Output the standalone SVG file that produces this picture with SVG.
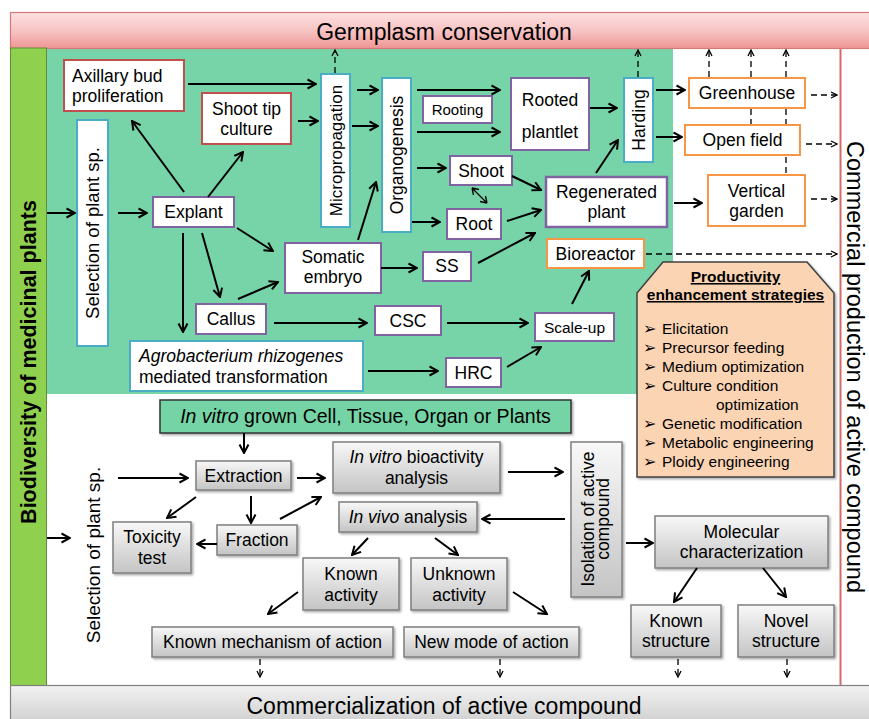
<svg xmlns="http://www.w3.org/2000/svg" width="869" height="719" viewBox="0 0 869 719">
<defs>
<linearGradient id="pink" x1="0" y1="0" x2="0" y2="1"><stop offset="0" stop-color="#fde2e2"/><stop offset="0.55" stop-color="#f7c0c0"/><stop offset="1" stop-color="#ef9494"/></linearGradient>
<linearGradient id="grey" x1="0" y1="0" x2="0" y2="1"><stop offset="0" stop-color="#f8f8f8"/><stop offset="1" stop-color="#c4c4c4"/></linearGradient>
<linearGradient id="bot" x1="0" y1="0" x2="0" y2="1"><stop offset="0" stop-color="#f2f2f2"/><stop offset="1" stop-color="#cdcdcd"/></linearGradient>
<filter id="sh" x="-10%" y="-10%" width="130%" height="140%"><feDropShadow dx="1.5" dy="1.5" stdDeviation="1" flood-color="#000" flood-opacity="0.35"/></filter>
<marker id="ah" markerUnits="userSpaceOnUse" markerWidth="12" markerHeight="12" viewBox="0 0 12 12" refX="11" refY="6" orient="auto"><path d="M2.5,1.5 L11,6 L2.5,10.5" fill="none" stroke="#000" stroke-width="2"/></marker>
<marker id="ahs" markerUnits="userSpaceOnUse" markerWidth="9" markerHeight="9" viewBox="0 0 9 9" refX="8" refY="4.5" orient="auto"><path d="M2,1.5 L8,4.5 L2,7.5" fill="none" stroke="#000" stroke-width="1.3"/></marker>
</defs>
<style>
.t{font-family:"Liberation Sans",Arial,Helvetica,sans-serif;font-size:17.5px;fill:#000;text-anchor:middle}
.s{font-size:15.5px}
.l{text-anchor:start}
.i{font-style:italic}
.bx{fill:#fff;stroke-width:2}
.r{stroke:#c0504d}
.p{stroke:#8064a2}
.b{stroke:#4bacc6}
.o{stroke:#f79646}
.g{fill:url(#grey);stroke:#7f7f7f;stroke-width:1.5;filter:url(#sh)}
.c{fill:none;stroke:#000;stroke-width:2;marker-end:url(#ah)}
.d{fill:none;stroke:#000;stroke-width:1.3;stroke-dasharray:6 4;marker-end:url(#ahs)}
.dn{fill:none;stroke:#000;stroke-width:1.3;stroke-dasharray:6 4}
.pt{font-size:15.5px;text-anchor:start}
.bu{font-family:"DejaVu Sans",sans-serif;font-size:16px;text-anchor:start}
</style>
<!-- background regions -->
<rect x="0" y="0" width="869" height="719" fill="#fff"/>
<rect x="46" y="48" width="627" height="346" fill="#77d4a8"/>
<line x1="840.5" y1="48" x2="840.5" y2="686" stroke="#d46a6a" stroke-width="2"/>
<g id="banner-top">
<rect x="10.5" y="12.5" width="870" height="36" fill="url(#pink)" stroke="#d47a7a" stroke-width="1.2"/>
<text class="t" x="444" y="40" style="font-size:23px">Germplasm conservation</text>
</g>
<g id="bar-left">
<rect x="10.5" y="48" width="36" height="638" fill="#8fd14f" stroke="#5f8f3a" stroke-width="1"/>
<text class="t" transform="translate(28.5,362) rotate(-90)" y="7.5" style="font-size:21.5px;font-weight:bold">Biodiversity of medicinal plants</text>
</g>
<g id="label-right">
<text class="t" transform="translate(855,367) rotate(90)" y="8" style="font-size:23.5px">Commercial production of active compound</text>
</g>
<g id="banner-bottom">
<rect x="10.5" y="685.5" width="870" height="40" fill="url(#bot)" stroke="#808080" stroke-width="1.2"/>
<text class="t" x="444" y="714" style="font-size:23px">Commercialization of active compound</text>
</g>

<!-- upper nodes -->
<g id="axillary"><rect class="bx r" x="64" y="60" width="120" height="51"/><text class="t l" x="72" y="82">Axillary bud</text><text class="t l" x="72" y="102">proliferation</text></g>
<g id="shoottip"><rect class="bx r" x="202" y="93" width="89" height="51"/><text class="t" x="246.5" y="115">Shoot tip</text><text class="t" x="246.5" y="135">culture</text></g>
<g id="selection1"><rect class="bx b" x="77" y="120" width="31" height="226"/><text class="t" transform="translate(92.5,233) rotate(-90)" y="6.5" style="font-size:18.5px">Selection of plant sp.</text></g>
<g id="explant"><rect class="bx p" x="153" y="197" width="81" height="30"/><text class="t" x="193.5" y="218">Explant</text></g>
<g id="micropropagation"><rect class="bx b" x="321" y="74" width="29" height="153"/><text class="t" transform="translate(335.5,150.5) rotate(-90)" y="6" style="font-size:17px">Micropropagation</text></g>
<g id="organogenesis"><rect class="bx b" x="382" y="78" width="29" height="154"/><text class="t" transform="translate(396.5,155) rotate(-90)" y="6">Organogenesis</text></g>
<g id="rooting"><rect class="bx p" x="423" y="96" width="69" height="27"/><text class="t" x="457.5" y="115" style="font-size:15px">Rooting</text></g>
<g id="rootedplantlet"><rect class="bx p" x="511" y="78" width="78" height="72"/><text class="t" x="550" y="106">Rooted</text><text class="t" x="550" y="138">plantlet</text></g>
<g id="harding"><rect class="bx b" x="624" y="78" width="29" height="84"/><text class="t" transform="translate(638.5,120) rotate(-90)" y="6">Harding</text></g>
<g id="shoot"><rect class="bx p" x="450" y="156" width="62" height="29"/><text class="t" x="481" y="177">Shoot</text></g>
<g id="root"><rect class="bx p" x="447" y="209" width="54" height="30"/><text class="t" x="474" y="230">Root</text></g>
<g id="regenerated"><rect class="bx p" x="546" y="177" width="121" height="50" style="stroke-width:2.5"/><text class="t" x="606.5" y="198">Regenerated</text><text class="t" x="606.5" y="218">plant</text></g>
<g id="somatic"><rect class="bx p" x="285" y="243" width="96" height="50"/><text class="t" x="333" y="263">Somatic</text><text class="t" x="333" y="283">embryo</text></g>
<g id="ss"><rect class="bx p" x="423" y="252" width="48" height="29"/><text class="t" x="447" y="272">SS</text></g>
<g id="bioreactor"><rect class="bx o" x="547" y="239" width="97" height="29"/><text class="t" x="595.5" y="260">Bioreactor</text></g>
<g id="callus"><rect class="bx p" x="196" y="304" width="70" height="30"/><text class="t" x="231" y="325">Callus</text></g>
<g id="csc"><rect class="bx p" x="375" y="306" width="66" height="29"/><text class="t" x="408" y="327">CSC</text></g>
<g id="scaleup"><rect class="bx p" x="535" y="313" width="79" height="28"/><text class="t s" x="574.5" y="333">Scale-up</text></g>
<g id="agrobacterium"><rect class="bx b" x="130" y="341" width="233" height="50"/><text class="t l i" x="139" y="362">Agrobacterium rhizogenes</text><text class="t l" x="139" y="383">mediated transformation</text></g>
<g id="hrc"><rect class="bx p" x="446" y="358" width="55" height="29"/><text class="t" x="473.5" y="379">HRC</text></g>
<g id="greenhouse"><rect class="bx o" x="689" y="78" width="116" height="30"/><text class="t" x="747" y="99">Greenhouse</text></g>
<g id="openfield"><rect class="bx o" x="685" y="125" width="115" height="30"/><text class="t" x="742.5" y="146">Open field</text></g>
<g id="verticalgarden"><rect class="bx o" x="708" y="175" width="97" height="51"/><text class="t" x="756.5" y="197">Vertical</text><text class="t" x="756.5" y="217">garden</text></g>
<g id="productivity">
<path d="M637,293 L663,262 L807,262 L834,293 L834,477 L637,477 Z" fill="#fbd4b4" stroke="#404040" stroke-width="1.5" filter="url(#sh)"/>
<text class="t" x="735.5" y="282" style="font-size:15.5px;font-weight:bold;text-decoration:underline">Productivity</text>
<text class="t" x="735.5" y="300" style="font-size:15.5px;font-weight:bold;text-decoration:underline">enhancement strategies</text>
<text class="bu" x="643" y="334">➢</text><text class="t pt" x="662" y="334">Elicitation</text>
<text class="bu" x="643" y="353">➢</text><text class="t pt" x="662" y="353">Precursor feeding</text>
<text class="bu" x="643" y="372">➢</text><text class="t pt" x="662" y="372">Medium optimization</text>
<text class="bu" x="643" y="391">➢</text><text class="t pt" x="662" y="391">Culture condition</text>
<text class="t pt" x="716" y="410">optimization</text>
<text class="bu" x="643" y="429">➢</text><text class="t pt" x="662" y="429">Genetic modification</text>
<text class="bu" x="643" y="448">➢</text><text class="t pt" x="662" y="448">Metabolic engineering</text>
<text class="bu" x="643" y="467">➢</text><text class="t pt" x="662" y="467">Ploidy engineering</text>
</g>

<!-- lower nodes -->
<g id="invitrogrown"><rect x="160" y="400" width="411" height="33" fill="#74d4a6" stroke="#333" stroke-width="1.5" filter="url(#sh)"/><text class="t" x="365.5" y="423" style="font-size:19.5px"><tspan class="i">In vitro</tspan> grown Cell, Tissue, Organ or Plants</text></g>
<g id="selection2"><text class="t" transform="translate(93,555) rotate(-90)" y="6.5" style="font-size:19px">Selection of plant sp.</text></g>
<g id="extraction"><rect class="g" x="196" y="461" width="95" height="29"/><text class="t" x="243.5" y="482">Extraction</text></g>
<g id="toxicity"><rect class="g" x="113" y="522" width="78" height="51"/><text class="t" x="152" y="543">Toxicity</text><text class="t" x="152" y="564">test</text></g>
<g id="fraction"><rect class="g" x="217" y="525" width="80" height="30"/><text class="t" x="257" y="546">Fraction</text></g>
<g id="invitrobio"><rect class="g" x="333" y="442" width="167" height="51"/><text class="t" x="416.5" y="463"><tspan class="i">In vitro</tspan> bioactivity</text><text class="t" x="416.5" y="484">analysis</text></g>
<g id="invivo"><rect class="g" x="339" y="502" width="138" height="30"/><text class="t" x="408" y="523"><tspan class="i">In vivo</tspan> analysis</text></g>
<g id="knownactivity"><rect class="g" x="303" y="558" width="96" height="52"/><text class="t" x="351" y="580">Known</text><text class="t" x="351" y="601">activity</text></g>
<g id="unknownactivity"><rect class="g" x="411" y="558" width="96" height="52"/><text class="t" x="459" y="580">Unknown</text><text class="t" x="459" y="601">activity</text></g>
<g id="isolation"><rect class="g" x="571" y="442" width="51" height="155"/><text class="t" transform="translate(596.5,519) rotate(-90)" x="0" y="-3">Isolation of active</text><text class="t" transform="translate(596.5,519) rotate(-90)" x="0" y="12">compound</text></g>
<g id="molecular"><rect class="g" x="655" y="516" width="173" height="52"/><text class="t" x="741.5" y="538">Molecular</text><text class="t" x="741.5" y="558">characterization</text></g>
<g id="knownmechanism"><rect class="g" x="152" y="627" width="241" height="30"/><text class="t" x="272.5" y="648">Known mechanism of action</text></g>
<g id="newmode"><rect class="g" x="404" y="627" width="175" height="30"/><text class="t" x="491.5" y="648">New mode of action</text></g>
<g id="knownstructure"><rect class="g" x="631" y="605" width="90" height="52"/><text class="t" x="676" y="627">Known</text><text class="t" x="676" y="647">structure</text></g>
<g id="novelstructure"><rect class="g" x="738" y="605" width="96" height="52"/><text class="t" x="786" y="627">Novel</text><text class="t" x="786" y="647">structure</text></g>

<g id="connectors">
<path class="c" d="M47,213 L75,213"/>
<path class="c" d="M118,213 L147,213"/>
<path class="c" d="M184,192 L132,121"/>
<path class="c" d="M208,197 L243,152"/>
<path class="c" d="M237,228 L273,251"/>
<path class="c" d="M202,233 L220,297"/>
<path class="c" d="M183,233 L183,332"/>
<path class="c" d="M238,299 L278,282"/>
<path class="c" d="M274,323 L367,323"/>
<path class="c" d="M447,323 L528,323"/>
<path class="c" d="M507,367 L541,347"/>
<path class="c" d="M368,371 L438,371"/>
<path class="c" d="M572,304 L589,271"/>
<path class="c" d="M478,263 L535,233"/>
<path class="c" d="M381,268 L417,268"/>
<path class="c" d="M358,240 L376,182"/>
<path class="c" d="M188,84 L316,84"/>
<path class="c" d="M298,121 L318,121"/>
<path class="c" d="M357,90 L378,90"/>
<path class="c" d="M352,126 L378,126"/>
<path class="c" d="M417,90 L500,90"/>
<path class="c" d="M417,132 L500,132"/>
<path class="c" d="M417,168 L446,168"/>
<path class="c" d="M412,222 L440,222"/>
<path d="M472,188 L487,203 M472,188 l7,1.5 M472,188 l1.5,7 M487,203 l-7,-1.5 M487,203 l-1.5,-7" fill="none" stroke="#000" stroke-width="1.3"/>
<path class="c" d="M512,176 L541,190"/>
<path class="c" d="M507,221 L541,210"/>
<path class="c" d="M590,108 L617,108"/>
<path class="c" d="M596,173 L618,140"/>
<path class="c" d="M656,90 L685,90"/>
<path class="c" d="M656,137 L682,137"/>
<path class="c" d="M674,203 L702,203"/>
<path class="d" d="M335,73 L335,50"/>
<path class="d" d="M638,77 L638,50"/>
<path class="d" d="M709,77 L709,50"/>
<path class="d" d="M751,77 L751,50"/>
<path class="d" d="M786,77 L786,50"/>
<path class="dn" d="M751,109 L751,124"/>
<path class="dn" d="M786,109 L786,124"/>
<path class="dn" d="M786,157 L786,174"/>
<path class="d" d="M811,95 L837,95"/>
<path class="d" d="M806,144 L837,144"/>
<path class="d" d="M811,199 L837,199"/>
<path class="d" d="M646,254 L837,254"/>
<path class="c" d="M244,433 L244,453"/>
<path class="c" d="M118,478 L188,478"/>
<path class="c" d="M47,538 L70,538"/>
<path class="c" d="M297,478 L325,478"/>
<path class="c" d="M196,497 L167,518"/>
<path class="c" d="M251,496 L251,523"/>
<path class="c" d="M280,519 L321,497"/>
<path class="c" d="M217,544 L197,544"/>
<path class="c" d="M508,472 L563,472"/>
<path class="c" d="M565,519 L482,519"/>
<path class="c" d="M368,538 L352,555"/>
<path class="c" d="M435,538 L458,555"/>
<path class="c" d="M298,592 L268,614"/>
<path class="c" d="M513,592 L547,614"/>
<path class="c" d="M626,543 L653,543"/>
<path class="c" d="M697,568 L674,602"/>
<path class="c" d="M763,568 L786,597"/>
<path class="d" d="M260,659 L260,677"/>
<path class="d" d="M500,659 L500,677"/>
<path class="d" d="M678,659 L678,677"/>
<path class="d" d="M787,659 L787,677"/>
</g>
</svg>
